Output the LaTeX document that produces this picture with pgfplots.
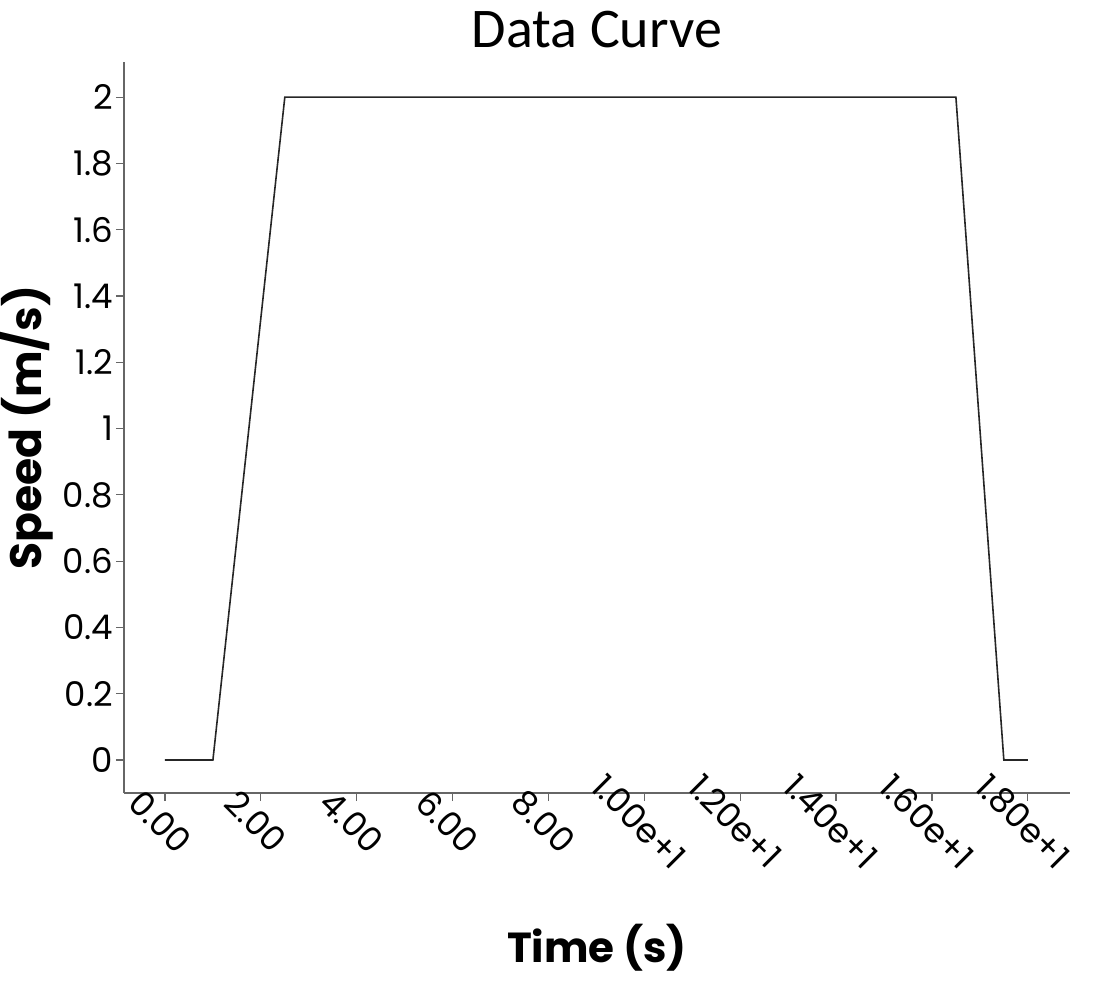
\documentclass[border=0pt]{standalone}
\usepackage{fontspec}
\setmainfont{Poppins}
\newfontfamily\titlefont{Carlito}
\usepackage{pgfplots}
\pgfplotsset{compat=1.18}
\begin{document}
\begin{tikzpicture}
% page frame: 1 px of the reference = 0.5pt
\path[use as bounding box] (-62pt,-97pt) rectangle (493pt,396.5pt);
\begin{axis}[
    at={(0,0)}, anchor=south west,
    scale only axis, width=473pt, height=365.5pt,
    xmin=-0.855, xmax=18.88, ymin=-0.0995, ymax=2.106,
    axis lines=left,
    axis line style={-, draw=black!60, line width=0.9pt},
    tick style={draw=black!60, line width=0.6pt},
    tick align=outside, major tick length=4pt,
    xtick={0,2,4,6,8,10,12,14,16,18},
    xticklabels={0.00,2.00,4.00,6.00,8.00,1.00e+1,1.20e+1,1.40e+1,1.60e+1,1.80e+1},
    ytick={0,0.2,0.4,0.6,0.8,1,1.2,1.4,1.6,1.8,2},
    yticklabels={0,0.2,0.4,0.6,0.8,1,1.2,1.4,1.6,1.8,2},
    xticklabel style={font=\fontsize{17}{17}\selectfont, rotate=-45, anchor=center, xshift=5.5pt, yshift=-9pt},
    yticklabel style={font=\fontsize{17}{17}\selectfont, xshift=2pt},
    title={Data Curve},
    title style={at={(axis description cs:0.5,1)}, anchor=center, yshift=10pt, font=\titlefont\fontsize{28}{28}\selectfont},
    xlabel={Time (s)},
    xlabel style={at={(axis description cs:0.5,0)}, anchor=center, yshift=-77.5pt, font=\fontsize{21}{21}\selectfont\bfseries},
    ylabel={Speed (m/s)},
    ylabel style={at={(axis description cs:-0.1026,0.5)}, anchor=center, font=\fontsize{22}{22}\selectfont\bfseries},
]
\addplot[black!85, line width=0.8pt, mark=none] coordinates {
    (0,0) (1,0) (2.5,2) (16.5,2) (17.5,0) (18,0)
};
\end{axis}
\end{tikzpicture}
\end{document}
